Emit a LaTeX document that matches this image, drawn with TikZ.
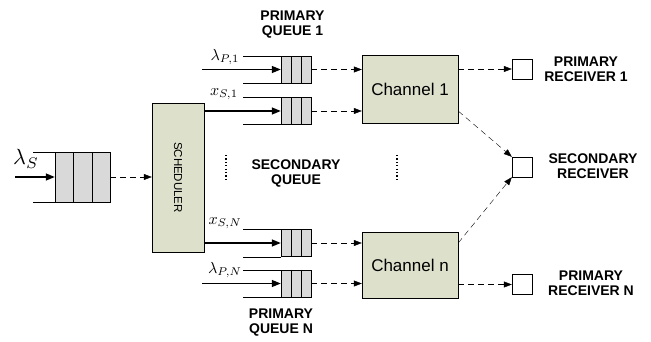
\documentclass[tikz,border=0pt]{standalone}
\usepackage{fontspec}
\usepackage{graphicx}
\setsansfont{Liberation Sans}
\usetikzlibrary{arrows.meta,calc}
\definecolor{boxgreen}{RGB}{221,224,203}
\definecolor{cellgray}{RGB}{217,217,217}

% dividers of a three-cell queue, and its open top and bottom lines
\newcommand{\queuelines}[2]{%
  \draw ($(#1.north west)!1/3!(#1.north east)$) -- ($(#1.south west)!1/3!(#1.south east)$)
        ($(#1.north west)!2/3!(#1.north east)$) -- ($(#1.south west)!2/3!(#1.south east)$);
  \draw (#1.north west) -- ++(-#2,0) (#1.south west) -- ++(-#2,0);}
% arrival rate label, drawn larger
\newcommand{\ratelabel}[2][1.6]{\scalebox{#1}{$#2$}}

\begin{document}
\begin{tikzpicture}[x=1pt, y=-1pt,
    queue/.style = {draw, fill=cellgray, inner sep=0, minimum width=30pt, minimum height=27pt},
    block/.style = {draw, fill=boxgreen, inner sep=0, font=\sffamily\fontsize{17}{17}\selectfont},
    recv/.style = {draw, fill=white, inner sep=0, minimum size=20pt},
    label/.style = {font=\sffamily\bfseries\fontsize{14}{15}\selectfont, align=center},
    rate/.style = {inner sep=0},
    arr/.style = {line width=1.3pt, -{Triangle[length=9pt,width=7pt]}},
    darr/.style = {dash pattern=on 6pt off 4pt, -{Triangle[length=8pt,width=6pt]}},
    dots/.style = {line width=1.3pt, dash pattern=on 1.2pt off 2.2pt}]
  \useasboundingbox (0,0) rectangle (651,342);

  % queues
  \node[queue, minimum width=55pt, minimum height=50pt] (sq) at (82.5,177) {};
  \node[queue] (qp1) at (296,69.5) {};
  \node[queue] (qs1) at (296,111) {};
  \node[queue] (qsN) at (296,243) {};
  \node[queue] (qpN) at (296,283.5) {};
  \queuelines{sq}{22}
  \queuelines{qp1}{38}
  \queuelines{qs1}{38}
  \queuelines{qsN}{38}
  \queuelines{qpN}{38}

  % scheduler and channels
  \node[block, minimum width=52pt, minimum height=149pt] (sched) at (178,177.5) {};
  \node[font=\sffamily\fontsize{11.5}{12}\selectfont, rotate=-90] at (sched) {SCHEDULER};
  \node[block, minimum width=96pt, minimum height=68pt] (ch1) at (410,89) {Channel 1};
  \node[block, minimum width=96pt, minimum height=66pt] (chn) at (410,265) {Channel n};

  % receivers
  \node[recv] (rx1) at (522,69) {};
  \node[recv] (rxs) at (522,167) {};
  \node[recv] (rxn) at (522,284.5) {};

  % labels
  \node[label] (lq1) at (292.5,25) {PRIMARY\\QUEUE 1};
  \node[label] (lqN) at (281,323) {PRIMARY\\QUEUE N};
  \node[label] (lsq) at (296,173) {SECONDARY\\QUEUE};
  \node[label] (lr1) at (586,69) {PRIMARY\\RECEIVER 1};
  \node[label] (lrs) at (593,166) {SECONDARY\\RECEIVER};
  \node[label] (lrn) at (591,283) {PRIMARY\\RECEIVER N};

  \node[rate] (lamS) at (26,159) {\ratelabel[2.2]{\lambda_S}};
  \node[rate] (lamP1) at (225,57) {\ratelabel{\lambda_{P,1}}};
  \node[rate] (xS1) at (224,94) {\ratelabel{x_{S,1}}};
  \node[rate] (xSN) at (225,223) {\ratelabel{x_{S,N}}};
  \node[rate] (lamPN) at (225,270) {\ratelabel{\lambda_{P,N}}};

  % inputs
  \coordinate (inS) at (15,177);
  \coordinate (inP1) at (202,69.5);
  \coordinate (inPN) at (202,283.5);
  \draw[arr] (inS) -- (sq.west);
  \draw[arr] (inP1) -- (qp1.west);
  \draw[arr] (sched.east |- qs1) -- (qs1.west);
  \draw[arr] (sched.east |- qsN) -- (qsN.west);
  \draw[arr] (inPN) -- (qpN.west);

  % dashed flows
  \draw[darr] (sq.east) -- (sq.east -| sched.west);
  \draw[darr] (qp1.east) -- (qp1.east -| ch1.west);
  \draw[darr] (qs1.east) -- (qs1.east -| ch1.west);
  \draw[darr] (qsN.east) -- (qsN.east -| chn.west);
  \draw[darr] (qpN.east) -- (qpN.east -| chn.west);
  \draw[darr] (ch1.east |- rx1) -- (rx1.west);
  \draw[darr] (ch1.east |- qs1) -- (rxs.north west);
  \draw[darr] (chn.east |- qsN) -- (rxs.south west);
  \draw[darr] (chn.east |- rxn) -- (rxn.west);

  % vertical dots
  \coordinate (d1) at (226,155);
  \coordinate (d2) at (226,179);
  \coordinate (d3) at (397,155);
  \coordinate (d4) at (397,179);
  \draw[dots] (d1) -- (d2);
  \draw[dots] (d3) -- (d4);
\end{tikzpicture}
\end{document}
